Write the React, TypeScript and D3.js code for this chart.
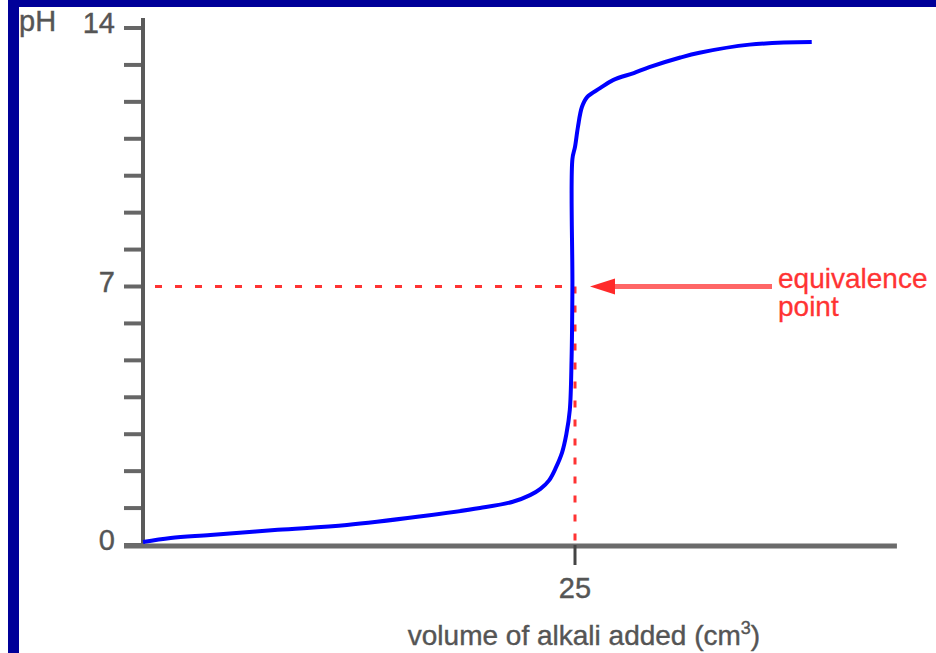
import React from "react";
import * as d3 from "d3";

const volumes = [0, 1.6, 3.9, 7.8, 11.8, 16.0, 19.5, 21.4, 22.4, 23.0, 23.5, 23.9, 24.25, 24.5, 24.7, 24.8, 24.85, 24.85, 25.0, 25.17, 25.4, 25.7, 26.45, 27.2, 28.4, 29.3, 31.1, 32.2, 35.1, 38.7];
const pHValues = [0.08, 0.19, 0.27, 0.41, 0.54, 0.77, 1.0, 1.17, 1.35, 1.52, 1.75, 2.1, 2.5, 3.0, 3.66, 5.0, 7.0, 10.45, 10.78, 11.32, 11.86, 12.13, 12.37, 12.59, 12.78, 12.94, 13.2, 13.33, 13.55, 13.62];
const yTicks = d3.range(0, 15);
const yTickLabels = ["0", "7", "14"];
const xTickValues = [25];
const equivalenceVolume = 25;
const equivalencePH = 7;
const xAxisMax = 43.63;
const yAxisMax = 14.27;

export default function App() {
  const W = 936, H = 653;
  const x = d3.scaleLinear().domain([0, 25]).range([143, 575]);
  const y = d3.scaleLinear().domain([0, 14]).range([545, 28]);
  const data = volumes.map((v, i) => [v, pHValues[i]] as [number, number]);
  const line = d3.line<[number, number]>().x(d => x(d[0])).y(d => y(d[1])).curve(d3.curveCatmullRom.alpha(0.5));
  const gray = "#5a5a5a";
  const textGray = "#555";
  const font = "'Liberation Sans', Arial, Helvetica, sans-serif";
  const red = "#ff3333";
  const ex = x(equivalenceVolume), ey = y(equivalencePH);
  return (
    <svg width={W} height={H} style={{ position: "absolute", left: 0, top: 0, background: "#fff" }} fontFamily={font}>
      <rect x={0} y={0} width={W} height={H} fill="#fff" />
      <rect x={8} y={0} width={W - 8} height={7} fill="#000099" />
      <rect x={8} y={0} width={11} height={H} fill="#000099" />
      {/* y ticks */}
      {yTicks.map(t => (
        <line key={t} x1={124} x2={143} y1={y(t)} y2={y(t)} stroke="#666" strokeWidth={4} />
      ))}
      {/* axes */}
      <line x1={143} x2={143} y1={y(yAxisMax)} y2={y(0)} stroke={gray} strokeWidth={4} />
      <line x1={124} x2={x(xAxisMax)} y1={y(0) + 1} y2={y(0) + 1} stroke="#6b6b6b" strokeWidth={5} />
      {xTickValues.map(t => (
        <line key={t} x1={x(t)} x2={x(t)} y1={y(0)} y2={y(0) + 20} stroke="#444" strokeWidth={3} />
      ))}
      {/* labels */}
      {yTickLabels.map(l => (
        <text key={l} x={115} y={y(+l) + 5} textAnchor="end" fontSize={29} fill={textGray} stroke={textGray} strokeWidth={0.4}>{l}</text>
      ))}
      <text x={19} y={31} fontSize={29} fill={textGray} stroke={textGray} strokeWidth={0.4}>pH</text>
      {xTickValues.map(t => (
        <text key={t} x={x(t)} y={598} textAnchor="middle" fontSize={29} fill={textGray} stroke={textGray} strokeWidth={0.4}>{t}</text>
      ))}
      <text x={584} y={645} textAnchor="middle" fontSize={28} fill={textGray} stroke={textGray} strokeWidth={0.4}>
        volume of alkali added (cm<tspan dy={-11} fontSize={18}>3</tspan><tspan dy={11}>)</tspan>
      </text>
      {/* dotted lines */}
      <line x1={143} x2={ex} y1={ey} y2={ey} stroke={red} strokeWidth={3} strokeDasharray="7 13" strokeDashoffset={-12} />
      <line x1={ex} x2={ex} y1={ey} y2={y(0)} stroke={red} strokeWidth={3} strokeDasharray="7 12" />
      {/* curve */}
      <path d={line(data) || ""} fill="none" stroke="#0000ff" strokeWidth={4} strokeLinejoin="round" />
      {/* arrow */}
      <line x1={612} x2={772} y1={ey} y2={ey} stroke="#ff6666" strokeWidth={5} />
      <path d={`M${ex + 15},${ey} L${ex + 40},${ey - 8} L${ex + 40},${ey + 8} Z`} fill="#ff2a2a" />
      <text x={778} y={288} fontSize={28} fill={red} stroke={red} strokeWidth={0.3}>equivalence</text>
      <text x={778} y={316} fontSize={28} fill={red} stroke={red} strokeWidth={0.3}>point</text>
    </svg>
  );
}
